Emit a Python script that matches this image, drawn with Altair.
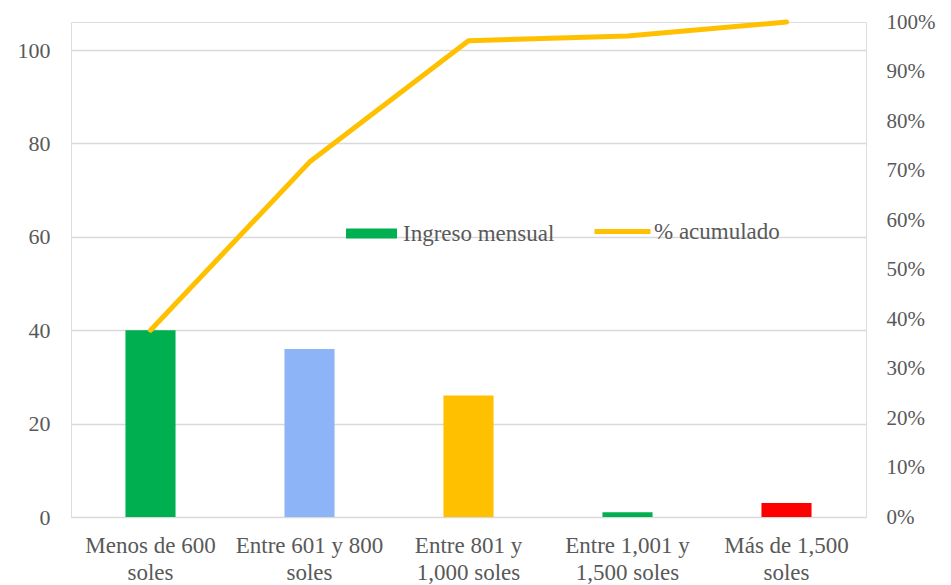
import altair as alt
import pandas as pd

categorias = ["Menos de 600|soles", "Entre 601 y 800|soles", "Entre 801 y|1,000 soles",
              "Entre 1,001 y|1,500 soles", "Más de 1,500|soles"]
ingreso = [40, 36, 26, 1, 3]
colores = ["#00B050", "#8EB4F8", "#FFC000", "#00B050", "#FF0000"]
serie_barras = "Ingreso mensual"
serie_linea = "% acumulado"
ticks_izq = [0, 20, 40, 60, 80, 100]
ticks_der = [0, 0.1, 0.2, 0.3, 0.4, 0.5, 0.6, 0.7, 0.8, 0.9, 1.0]

df = pd.DataFrame({"cat": categorias, "ingreso": ingreso})
total = df["ingreso"].sum()
df["acum"] = df["ingreso"].cumsum() / total
df["serie"] = serie_linea

FONT = "Liberation Serif"
GRAY = "#595959"
GRID = "#D9D9D9"

x_enc = alt.X("cat:N", sort=categorias,
              scale=alt.Scale(paddingInner=0.685, paddingOuter=0.3425),
              axis=alt.Axis(title=None, labelAngle=0, ticks=False, domain=False,
                            labelExpr="split(datum.label, '|')",
                            labelFont=FONT, labelFontSize=23, labelColor=GRAY,
                            labelPadding=17, labelLineHeight=27))

bars = alt.Chart(df).mark_bar().encode(
    x=x_enc,
    y=alt.Y("ingreso:Q", scale=alt.Scale(domain=[0, 106], nice=False),
            axis=alt.Axis(title=None, values=ticks_izq, ticks=False, domain=False,
                          grid=True, gridColor=GRID, gridWidth=1.4,
                          labelFont=FONT, labelFontSize=22, labelColor=GRAY,
                          labelPadding=21)),
    color=alt.Color("cat:N", sort=categorias,
                    scale=alt.Scale(domain=categorias, range=colores), legend=None),
)

leg_df = pd.DataFrame({"serie": [serie_barras]})
legend_bars = alt.Chart(leg_df).mark_bar().encode(
    color=alt.Color("serie:N", scale=alt.Scale(domain=[serie_barras], range=["#00B050"]),
                    legend=alt.Legend(title=None, orient="none", legendX=275, legendY=186,
                                      symbolType="M-1,-0.2H1V0.2H-1Z", symbolSize=2601,
                                      symbolStrokeWidth=0, labelOffset=6,
                                      labelFont=FONT, labelFontSize=23, labelColor=GRAY,
                                      padding=0))
).transform_filter("false")

line = alt.Chart(df).mark_line(strokeWidth=5, strokeCap="round", strokeJoin="round").encode(
    x=alt.X("cat:N", sort=categorias),
    y=alt.Y("acum:Q", scale=alt.Scale(domain=[0, 1], nice=False),
            axis=alt.Axis(title=None, orient="right", values=ticks_der, format=".0%",
                          ticks=False, domain=False, grid=False,
                          labelFont=FONT, labelFontSize=21, labelColor=GRAY,
                          labelPadding=20)),
    color=alt.Color("serie:N", scale=alt.Scale(domain=[serie_linea], range=["#FFC000"]),
                    legend=alt.Legend(title=None, orient="none", legendX=521, legendY=179,
                                      symbolType="stroke", symbolSize=3136,
                                      symbolStrokeWidth=5, labelOffset=1,
                                      labelFont=FONT, labelFontSize=23, labelColor=GRAY,
                                      padding=0)),
)

inner = alt.layer(bars, legend_bars).resolve_scale(color="independent")
chart = alt.layer(inner, line).resolve_scale(y="independent", color="independent").properties(
    width=795, height=495,
    autosize=alt.AutoSizeParams(type="none"),
    padding={"left": 71, "top": 22, "right": 85, "bottom": 68},
).configure_view(stroke=None).configure(background="white")

chart.save("out.html", embed_options={"renderer": "svg", "actions": False})
